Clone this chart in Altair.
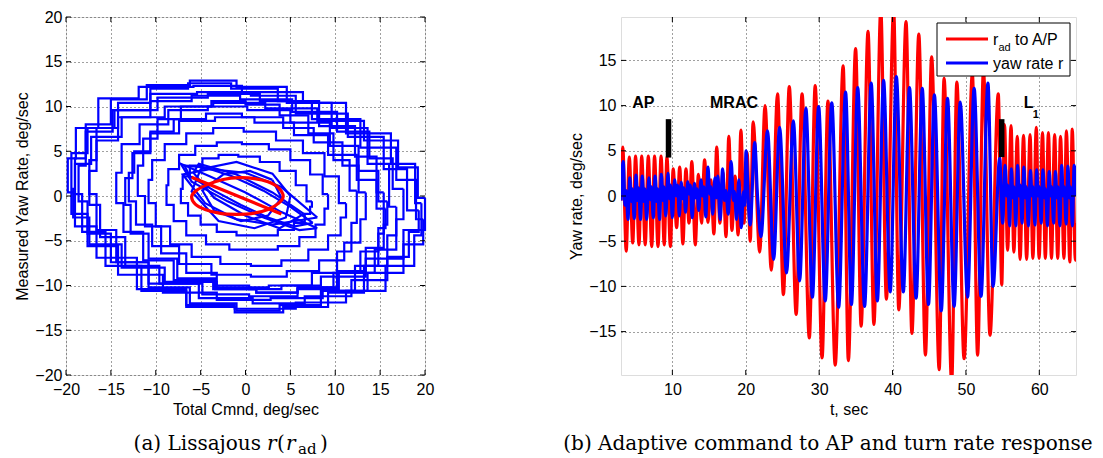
import altair as alt
import pandas as pd

SANS = "Liberation Sans"
SERIF = "DejaVu Serif"
RED = "#FF0000"
BLUE = "#0000FF"

# ---------------- left panel: Lissajous loops (Total Cmnd vs Measured Yaw Rate) ----------------
loop_a_x = [19.6, 18.9, 16.2, 11.2, 6.4, -0.4, -5.8, -11.9, -16.4, -18.9, -19.8, -19.0, -16.6, -12.1, -6.6, -1.2, 5.6, 11.2, 15.6, 18.8, 19.6]
loop_a_y = [-0.8, 3.6, 7.0, 10.4, 11.6, 12.3, 12.2, 10.9, 7.6, 4.2, 0.4, -3.4, -6.9, -10.4, -12.2, -12.6, -11.9, -10.6, -7.8, -4.4, -0.8]
loop_b_x = [19.3, 18.0, 15.4, 11.4, 5.6, 0.6, -5.4, -10.6, -14.8, -17.8, -18.6, -17.6, -15.0, -10.8, -5.2, 0.8, 6.6, 11.8, 15.8, 18.2, 19.3]
loop_b_y = [-1.6, 3.0, 6.6, 9.2, 11.2, 11.6, 11.4, 9.6, 7.2, 3.4, -0.6, -4.2, -7.4, -9.8, -11.4, -12.0, -11.2, -9.4, -6.8, -4.0, -1.6]
loop_c_x = [17.6, 16.4, 13.8, 10.2, 5.2, -0.6, -6.0, -10.6, -14.2, -16.6, -17.4, -16.2, -13.4, -9.6, -4.8, 0.4, 5.8, 10.4, 14.4, 16.8, 17.6]
loop_c_y = [0.8, 4.2, 7.2, 9.4, 10.8, 11.2, 10.6, 8.8, 6.2, 2.8, -1.0, -4.6, -7.8, -9.8, -11.0, -11.2, -10.4, -8.6, -6.0, -2.6, 0.8]
loop_d_x = [15.8, 14.8, 12.6, 9.4, 5.0, 0.2, -4.2, -8.6, -11.8, -13.8, -14.4, -13.6, -11.4, -8.0, -3.6, 1.2, 5.8, 10.2, 13.4, 15.4, 15.8]
loop_d_y = [-0.6, 2.8, 5.6, 8.2, 9.6, 10.0, 9.6, 8.0, 5.8, 2.6, -0.8, -4.0, -7.2, -9.4, -10.4, -10.8, -10.2, -8.4, -5.8, -3.2, -0.6]
loop_e_x = [13.4, 12.6, 10.8, 7.6, 4.2, -0.4, -4.4, -8.0, -10.6, -12.4, -13.0, -12.2, -10.4, -7.4, -3.8, 0.6, 4.6, 8.2, 11.0, 12.8, 13.4]
loop_e_y = [0.4, 3.4, 6.0, 7.6, 8.8, 9.2, 8.6, 7.2, 5.0, 2.6, -0.6, -3.2, -5.6, -7.6, -8.8, -9.0, -8.4, -7.2, -5.2, -2.6, 0.4]
loop_f_x = [11.2, 10.4, 8.8, 6.4, 3.4, -0.2, -3.6, -6.6, -9.0, -10.4, -10.8, -10.0, -8.4, -6.0, -2.8, 0.6, 4.0, 7.0, 9.2, 10.6, 11.2]
loop_f_y = [-0.8, 2.2, 4.8, 6.2, 7.2, 7.6, 7.0, 5.8, 4.0, 1.8, -0.8, -3.4, -5.4, -6.8, -7.6, -7.8, -7.2, -6.0, -4.4, -2.4, -0.8]
loop_g_x = [9.2, 8.6, 7.2, 5.0, 2.6, -0.4, -3.2, -5.6, -7.4, -8.6, -8.8, -8.0, -6.6, -4.4, -1.8, 1.0, 3.6, 6.0, 7.8, 8.8, 9.2]
loop_g_y = [0.2, 2.4, 4.0, 5.2, 5.8, 6.0, 5.6, 4.6, 3.0, 1.2, -1.0, -2.8, -4.4, -5.4, -6.0, -6.0, -5.6, -4.6, -3.2, -1.4, 0.2]
loop_h_x = [7.4, 6.8, 5.6, 3.8, 1.6, -0.8, -3.0, -4.8, -6.2, -7.0, -7.2, -6.4, -5.0, -3.2, -1.0, 1.4, 3.6, 5.4, 6.6, 7.2, 7.4]
loop_h_y = [-0.6, 1.2, 2.8, 3.8, 4.4, 4.6, 4.2, 3.4, 2.2, 0.8, -0.8, -2.2, -3.2, -4.0, -4.4, -4.4, -3.8, -3.0, -2.0, -1.2, -0.6]
loop_i_x = [19.8, 19.0, 16.8, 12.8, 7.4, 1.6, -4.2, -9.8, -14.6, -17.6, -19.4, -19.4, -17.6, -14.2, -9.2, -3.2, 2.8, 8.6, 13.6, 17.6, 19.8]
loop_i_y = [-2.6, 1.8, 5.4, 8.6, 10.6, 11.4, 11.0, 9.6, 7.6, 4.8, 1.6, -2.0, -5.6, -8.8, -10.8, -11.6, -11.4, -10.6, -8.6, -5.4, -2.6]
loop_j_x = [15.4, 14.6, 12.2, 8.2, 3.6, -1.6, -6.4, -10.6, -14.2, -16.6, -17.4, -16.6, -14.4, -10.8, -6.2, -1.0, 3.8, 8.4, 12.2, 14.8, 15.4]
loop_j_y = [0.4, 4.4, 7.8, 10.6, 12.0, 12.6, 12.0, 10.4, 7.6, 4.0, 0.2, -3.8, -7.4, -10.2, -12.0, -12.8, -12.2, -10.6, -7.8, -4.2, 0.4]
loop_k_x = [16.8, 16.0, 13.6, 9.6, 4.6, -1.0, -6.2, -11.0, -15.0, -17.8, -19.0, -18.2, -15.6, -11.6, -6.6, -1.2, 4.2, 9.2, 13.2, 15.8, 16.8]
loop_k_y = [-1.2, 3.6, 7.6, 10.4, 12.2, 12.9, 12.4, 10.8, 8.0, 4.2, 0.2, -4.0, -7.8, -10.6, -12.4, -13.0, -12.4, -10.8, -7.8, -4.4, -1.2]
loop_l_x = [15.6, 14.6, 12.4, 9.2, 5.4, 1.0, -3.4, -7.4, -10.6, -12.6, -13.4, -12.8, -10.8, -7.6, -3.4, 1.2, 5.8, 9.8, 12.8, 14.8, 15.6]
loop_l_y = [-1.4, 1.8, 4.6, 6.8, 8.2, 8.8, 8.4, 7.0, 4.8, 2.0, -1.0, -4.2, -7.0, -9.2, -10.4, -10.8, -10.2, -8.6, -6.2, -3.6, -1.4]
loop_m_x = [12.4, 11.6, 9.8, 7.0, 3.8, 0.0, -3.8, -7.2, -9.8, -11.4, -12.0, -11.2, -9.4, -6.6, -3.2, 0.4, 4.0, 7.4, 10.2, 11.8, 12.4]
loop_m_y = [0.6, 4.0, 7.0, 9.0, 10.2, 10.6, 10.0, 8.6, 6.4, 3.4, 0.0, -3.4, -6.4, -8.6, -10.0, -10.4, -10.0, -8.6, -6.2, -3.0, 0.6]
loop_n_x = [20.0, 19.2, 17.0, 13.2, 8.0, 2.2, -3.6, -9.0, -13.8, -17.2, -19.0, -19.2, -17.4, -13.8, -9.0, -3.2, 2.6, 8.4, 13.4, 17.6, 20.0]
loop_n_y = [-0.2, 3.2, 6.2, 8.4, 9.8, 10.4, 10.0, 8.8, 6.6, 3.6, 0.8, -2.4, -5.4, -8.0, -9.6, -10.2, -10.0, -9.0, -7.0, -3.8, -0.2]
core_1_x = [7.5, 5.0, 2.0, -1.5, -4.5, -6.8, -6.2, -3.5, -0.5, 2.5, 5.5, 7.5]
core_1_y = [-3.0, -1.2, 0.6, 2.2, 3.2, 3.4, 2.2, 0.6, -1.0, -2.4, -3.4, -3.0]
core_2_x = [6.5, 3.0, -1.0, -5.2, -5.8, -3.5, 0.0, 3.8, 6.5]
core_2_y = [-2.0, 0.4, 2.4, 3.6, 2.6, -0.2, -2.2, -3.6, -2.0]
core_3_x = [8.0, 4.0, 0.0, -4.0, -7.0, -4.5, -1.0, 3.0, 8.0]
core_3_y = [-2.4, 1.0, 2.6, 3.0, 2.4, -0.8, -2.6, -3.2, -2.4]
core_4_x = [5.0, 3.0, -1.0, -5.0, -6.0, -3.0, 1.0, 4.5, 5.0]
core_4_y = [0.0, 2.5, 3.8, 3.0, 0.5, -2.8, -3.6, -2.4, 0.0]
core_5_x = [8.0, 4.0, 0.0, -4.0, -7.2, -6.0, -2.0, 2.0, 6.0, 8.0]
core_5_y = [-3.6, -1.8, 0.4, 2.2, 3.6, 1.6, -0.6, -2.4, -3.8, -3.6]
core_6_x = [3.0, 0.5, -2.5, -4.8, -3.5, -0.5, 2.5, 4.0, 3.0]
core_6_y = [1.8, 2.8, 2.4, 0.6, -1.6, -2.8, -2.2, -0.2, 1.8]

# red ellipse and red line (adaptive command fit)
ell_x = [4.2, 3.6, 2.5, 1.0, -0.6, -2.5, -4.2, -5.5, -6.0, -5.6, -4.5, -2.8, -1.0, 0.8, 2.5, 3.7]
ell_y = [0.0, 1.0, 1.6, 1.95, 2.05, 1.85, 1.3, 0.6, -0.1, -0.9, -1.5, -1.95, -2.05, -1.95, -1.5, -0.8]
fit_x = [-6.0, 4.0]
fit_y = [2.1, -2.0]

left_ticks = [-20, -15, -10, -5, 0, 5, 10, 15, 20]

# ---------------- right panel: time histories ----------------
red_ap_t = [3.0, 3.24, 3.71, 4.13, 4.60, 4.98, 5.45, 5.82, 6.30, 6.72, 7.19, 7.57, 8.04, 8.46, 8.89, 9.26, 9.73]
red_ap_v = [-0.5, 5.4, -6.1, 4.3, -5.2, 4.4, -5.4, 4.4, -5.4, 4.4, -5.6, 4.4, -5.6, 4.4, -5.4, 4.3, -5.6]
red_mr_t = [10.11, 10.58, 11.0, 11.43, 11.85, 12.27, 12.65, 13.12, 13.55, 13.97, 14.39, 14.86, 15.24, 15.66,
            16.04, 16.47, 16.89, 17.31, 17.69, 18.11, 18.54, 18.96, 19.34, 19.76, 20.18, 20.61, 21.0, 21.9]
red_mr_v = [3.0, -3.5, 3.2, -5.3, 3.0, -3.0, 3.8, -5.4, 2.4, -3.0, 4.0, -2.9, 1.8, -4.2,
            5.4, -3.0, 2.6, -4.5, 6.6, -3.8, 2.2, -4.3, 7.3, -3.0, 4.8, -5.0, 8.2, -6.2]
red_big_t = [22.63, 23.48, 24.33, 25.13, 25.93, 26.87, 27.67, 28.66, 29.46, 30.40, 31.20, 32.19, 33.27, 33.98,
             34.97, 35.72, 36.66, 37.46, 38.40, 39.16, 40.15, 40.85, 41.84, 42.64, 43.58, 44.48, 45.33, 46.36,
             47.02, 48.06, 48.76, 49.75, 50.88, 51.59, 52.39, 53.28, 54.41, 54.88]
red_big_v = [10.0, -8.2, 11.3, -10.9, 12.1, -13.1, 11.3, -15.7, 12.2, -17.9, 10.5, -18.7, 14.4, -18.2,
             16.3, -14.4, 18.2, -14.2, 20.6, -11.4, 20.6, -12.6, 19.3, -15.2, 17.9, -17.6, 15.4, -19.2,
             13.0, -20.6, 12.6, -18.0, 13.5, -17.6, 13.9, -15.4, 11.3, -9.8]
red_l1_t = [55.26, 55.68, 56.15, 56.53, 57.0, 57.38, 57.85, 58.27, 58.74, 59.12, 59.59, 59.97, 60.44,
            60.82, 61.24, 61.66, 62.09, 62.51, 62.89, 63.36, 63.69, 64.16, 64.49, 64.91, 65.0]
red_l1_v = [7.9, -6.0, 7.8, -6.2, 6.6, -7.0, 6.7, -7.0, 6.8, -6.9, 7.6, -6.9, 7.0,
            -6.9, 7.0, -6.9, 6.8, -6.9, 6.6, -6.9, 7.2, -7.3, 7.4, -7.1, -3.0]

blue_ap_t = [3.0, 3.3, 3.55, 3.7, 3.95, 4.2, 4.4, 4.55, 4.8, 5.05, 5.25, 5.4, 5.65, 5.9, 6.1, 6.25, 6.5,
             6.8, 7.0, 7.15, 7.4, 7.65, 7.85, 8.0, 8.25, 8.5, 8.7, 8.85, 9.1, 9.4, 9.6, 9.75, 10.0]
blue_ap_v = [-0.5, 3.8, -1.0, 0.6, -2.6, 2.0, -0.6, 0.8, -2.5, 2.3, -0.5, 0.9, -2.6, 2.2, -0.6, 0.8, -2.6,
             2.0, -0.4, 1.0, -2.4, 2.2, -0.6, 0.8, -2.6, 2.4, -0.5, 1.0, -2.2, 2.5, -0.3, 1.2, -2.4]
blue_mr_t = [10.3, 10.55, 10.7, 10.95, 11.2, 11.4, 11.55, 11.8, 12.1, 12.3, 12.45, 12.7, 13.0, 13.2, 13.35,
             13.6, 13.9, 14.1, 14.3, 14.55, 14.85, 15.1, 15.25, 15.5, 15.8, 16.0, 16.2, 16.5, 16.85, 17.1,
             17.3, 17.6, 18.02, 18.3, 18.45, 18.75, 19.05, 19.4, 19.7, 19.85, 20.04, 20.4, 20.6, 21.22, 21.6, 22.07]
blue_mr_v = [1.8, 0.0, 1.2, -2.2, 1.5, -0.3, 0.9, -1.8, 1.6, 0.2, 1.2, -2.4, 1.4, -0.2, 0.8,
             -1.6, 1.8, 0.0, 1.0, -2.3, 3.2, 0.2, 1.0, -2.0, 2.0, -0.2, 2.2, -2.6, 3.0, -0.5,
             0.6, -2.0, 3.8, -0.5, 0.5, -2.6, 1.8, -3.5, 0.5, -1.0, 5.0, -1.5, -3.2, 5.9, 0.0, -4.5]
blue_big_t = [22.96, 23.8, 24.61, 25.55, 26.49, 27.34, 28.19, 29.08, 29.93, 30.83, 31.72, 32.66, 33.6, 34.4,
              35.25, 36.19, 37.09, 37.93, 38.78, 39.68, 40.52, 41.47, 42.31, 43.21, 44.05, 44.9, 45.7, 46.64,
              47.49, 48.39, 49.23, 50.22, 51.12, 52.06, 53.0, 53.7, 54.6, 55.0]
blue_big_v = [7.2, -7.0, 7.6, -8.5, 8.3, -9.4, 9.7, -11.2, 9.9, -11.6, 10.3, -12.3, 11.5, -12.0,
              12.0, -12.2, 12.5, -11.6, 12.8, -10.6, 13.2, -10.6, 12.0, -11.3, 11.9, -12.0, 11.2, -12.7,
              10.8, -12.2, 10.4, -11.2, 11.9, -11.1, 12.5, -10.0, 4.2, -3.0]
blue_l1_t = [55.35, 55.55, 55.7, 55.95, 56.2, 56.4, 56.55, 56.8, 57.05, 57.25, 57.4, 57.65, 57.9, 58.1, 58.25,
             58.5, 58.8, 59.0, 59.15, 59.4, 59.65, 59.85, 60.0, 60.25, 60.5, 60.7, 60.85, 61.1, 61.35, 61.55,
             61.7, 61.95, 62.2, 62.4, 62.55, 62.8, 63.05, 63.25, 63.4, 63.65, 63.9, 64.1, 64.25, 64.5, 64.75, 65.0]
blue_l1_v = [3.4, 0.0, 1.2, -3.3, 3.0, -0.2, 1.0, -3.3, 3.4, 0.0, 1.2, -3.0, 3.2, -0.2, 1.0,
             -3.3, 2.8, 0.0, 1.0, -3.2, 2.9, 0.0, 1.0, -3.0, 2.9, -0.2, 0.8, -3.3, 2.7, 0.0,
             1.0, -3.0, 2.7, -0.2, 1.0, -3.3, 3.4, 0.0, 1.0, -3.1, 3.3, -0.2, 1.0, -3.3, 3.4, 0.0]

# controller switch markers and region labels
bar_t0 = [9.1, 54.5]
bar_t1 = [9.85, 55.25]
bar_lo = [4.25, 4.3]
bar_hi = [8.5, 8.5]
label_t = [6.05, 18.4, 58.55]
label_y = [10.3, 10.3, 10.3]
label_txt = ["AP", "MRAC", "L"]
sub_t = [59.1]
sub_y = [9.0]
sub_txt = ["1"]

right_x_ticks = [10, 20, 30, 40, 50, 60]
right_y_ticks = [-15, -10, -5, 0, 5, 10, 15]

LW, LH = 359, 358
RW, RH = 455, 358

# ---------------- build tables ----------------
loops = {
    "a": (loop_a_x, loop_a_y), "b": (loop_b_x, loop_b_y), "c": (loop_c_x, loop_c_y),
    "d": (loop_d_x, loop_d_y), "e": (loop_e_x, loop_e_y), "f": (loop_f_x, loop_f_y),
    "g": (loop_g_x, loop_g_y), "h": (loop_h_x, loop_h_y), "i": (loop_i_x, loop_i_y),
    "j": (loop_j_x, loop_j_y), "k": (loop_k_x, loop_k_y), "l": (loop_l_x, loop_l_y),
    "m": (loop_m_x, loop_m_y), "n": (loop_n_x, loop_n_y),
}
cores = {
    "c1": (core_1_x, core_1_y), "c2": (core_2_x, core_2_y), "c3": (core_3_x, core_3_y),
    "c4": (core_4_x, core_4_y), "c5": (core_5_x, core_5_y), "c6": (core_6_x, core_6_y),
}


def to_rows(d):
    rows = []
    for name, (xs, ys) in d.items():
        assert len(xs) == len(ys)
        for i, (a, b) in enumerate(zip(xs, ys)):
            rows.append({"x": a, "y": b, "loop": name, "o": i})
    return pd.DataFrame(rows)


loops_df = to_rows(loops)
cores_df = to_rows(cores)
ell_df = pd.DataFrame({"x": ell_x, "y": ell_y, "o": list(range(len(ell_x)))})
fit_df = pd.DataFrame({"x": fit_x, "y": fit_y})

red_t = red_ap_t + red_mr_t + red_big_t + red_l1_t
red_v = red_ap_v + red_mr_v + red_big_v + red_l1_v
blue_t = blue_ap_t + blue_mr_t + blue_big_t + blue_l1_t
blue_v = blue_ap_v + blue_mr_v + blue_big_v + blue_l1_v
assert len(red_t) == len(red_v) and len(blue_t) == len(blue_v)
red_df = pd.DataFrame({"x": red_t, "y": red_v})
blue_df = pd.DataFrame({"x": blue_t, "y": blue_v})
bar_df = pd.DataFrame({"x": bar_t0, "x2": bar_t1, "y": bar_lo, "y2": bar_hi})
lab_df = pd.DataFrame({"x": label_t, "y": label_y, "t": label_txt})
sub_df = pd.DataFrame({"x": sub_t, "y": sub_y, "t": sub_txt})
one = pd.DataFrame({"a": [0]})


def axis(values, title, pad):
    return alt.Axis(values=values, title=title, grid=True, gridDash=[1, 3], gridColor="#000000",
                    gridOpacity=0.75, gridWidth=1, ticks=False, domain=False,
                    labelFont=SANS, labelFontSize=16, labelColor="#000000", labelPadding=pad,
                    titleFont=SANS, titleFontSize=16, titleFontWeight="normal", titleColor="#000000",
                    titlePadding=4, labelFlush=False)


def frame_ticks(xvals, yvals, X, Y, w, h, n=5):
    xt = pd.DataFrame({"x": xvals})
    yt = pd.DataFrame({"y": yvals})
    r = alt.Chart(xt).mark_rule(color="black", strokeWidth=1)
    q = alt.Chart(yt).mark_rule(color="black", strokeWidth=1)
    return [
        r.encode(x=X, y=alt.value(0), y2=alt.value(n)),
        r.encode(x=X, y=alt.value(h - n), y2=alt.value(h)),
        q.encode(y=Y, x=alt.value(0), x2=alt.value(n)),
        q.encode(y=Y, x=alt.value(w - n), x2=alt.value(w)),
    ]


def txt(s, x, y, size=16, font=SANS, style="normal", align="left", weight="normal"):
    return alt.Chart(one).mark_text(align=align, baseline="alphabetic", font=font, fontSize=size,
                                    fontStyle=style, fontWeight=weight, color="black").encode(
        x=alt.value(x), y=alt.value(y), text=alt.value(s))


# ---------------- left chart ----------------
xsL = alt.Scale(domain=[-20, 20], nice=False, zero=False)
ysL = alt.Scale(domain=[-20, 20], nice=False, zero=False)
XL = alt.X("x:Q", scale=xsL, axis=axis(left_ticks, "Total Cmnd, deg/sec", 6))
YL = alt.Y("y:Q", scale=ysL, axis=axis(left_ticks, "Measured Yaw Rate, deg/sec", 4))
blue_loops = alt.Chart(loops_df).mark_line(color=BLUE, strokeWidth=2.2, interpolate="step-after").encode(
    x=XL, y=YL, detail="loop:N", order="o:Q")
blue_core = alt.Chart(cores_df).mark_line(color=BLUE, strokeWidth=2.2).encode(
    x=XL, y=YL, detail="loop:N", order="o:Q")
ellipse = alt.Chart(ell_df).mark_line(color=RED, strokeWidth=3.2, interpolate="cardinal-closed").encode(
    x=XL, y=YL, order="o:Q")
fitline = alt.Chart(fit_df).mark_line(color=RED, strokeWidth=3.2).encode(x=XL, y=YL)
CAP_Y = 433
capA = [
    txt("(a) Lissajous", 195, CAP_Y, 20, SERIF, align="right"),
    txt("r", 201, CAP_Y, 20, SERIF, "italic"),
    txt("(", 211, CAP_Y, 20, SERIF),
    txt("r", 220, CAP_Y, 20, SERIF, "italic"),
    txt("ad", 232, CAP_Y + 4, 15, SERIF),
    txt(")", 254, CAP_Y, 20, SERIF),
]
left = alt.layer(blue_loops, blue_core, ellipse, fitline,
                 *frame_ticks(left_ticks, left_ticks, XL, YL, LW, LH), *capA).properties(width=LW, height=LH)

# ---------------- right chart ----------------
xsR = alt.Scale(domain=[3, 65], nice=False, zero=False)
ysR = alt.Scale(domain=[-19.8, 19.8], nice=False, zero=False)
XR = alt.X("x:Q", scale=xsR, axis=axis(right_x_ticks, "t, sec", 6))
YR = alt.Y("y:Q", scale=ysR, axis=axis(right_y_ticks, "Yaw rate, deg/sec", 5))
red_line = alt.Chart(red_df).mark_line(color=RED, strokeWidth=3.2, interpolate="monotone", clip=True).encode(
    x=XR, y=YR)
blue_line = alt.Chart(blue_df).mark_line(color=BLUE, strokeWidth=3.2, interpolate="monotone", clip=True).encode(
    x=XR, y=YR)
bars = alt.Chart(bar_df).mark_rect(color="black").encode(x=XR, x2="x2:Q", y=YR, y2="y2:Q")
labels = alt.Chart(lab_df).mark_text(font=SANS, fontSize=16, fontWeight="bold", color="black",
                                     align="center", baseline="middle").encode(x=XR, y=YR, text="t:N")
sublab = alt.Chart(sub_df).mark_text(font=SANS, fontSize=11, fontWeight="bold", color="black",
                                     align="left", baseline="middle").encode(x=XR, y=YR, text="t:N")
leg_box = alt.Chart(one).mark_rect(fill="white", stroke="black", strokeWidth=1).encode(
    x=alt.value(316), x2=alt.value(449), y=alt.value(6), y2=alt.value(59))
leg_red = alt.Chart(one).mark_rule(color=RED, strokeWidth=3.2).encode(
    x=alt.value(325), x2=alt.value(367), y=alt.value(22))
leg_blue = alt.Chart(one).mark_rule(color=BLUE, strokeWidth=3.2).encode(
    x=alt.value(325), x2=alt.value(367), y=alt.value(46))
leg_txt = [
    txt("r", 372, 27.5, 16),
    txt("ad", 377.5, 33.5, 11),
    txt("to A/P", 394, 27.5, 16),
    txt("yaw rate r", 372, 51.5, 16),
]
capB = [txt("(b) Adaptive command to AP and turn rate response", 207, CAP_Y, 20, SERIF, align="center")]
right = alt.layer(red_line, blue_line, bars, labels, sublab,
                  *frame_ticks(right_x_ticks, right_y_ticks, XR, YR, RW, RH),
                  leg_box, leg_red, leg_blue, *leg_txt, *capB).properties(width=RW, height=RH)

chart = alt.hconcat(left, right, spacing=196, bounds="flush").properties(
    padding={"left": 6, "top": 0, "right": 0, "bottom": 0}
).configure_view(stroke="black", strokeWidth=1).configure(background="white")

chart.save("out.html", embed_options={"renderer": "svg", "actions": False})
